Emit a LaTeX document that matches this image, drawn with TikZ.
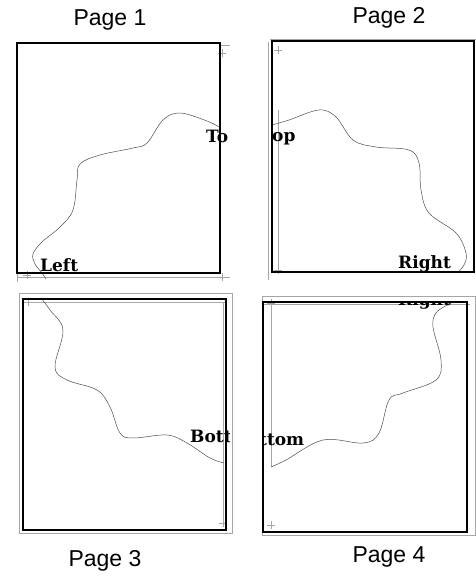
\documentclass[tikz,border=0pt]{standalone}
\usepackage{fontspec}
\setmainfont{Liberation Sans}
\newfontfamily\edgefont{DejaVu Serif}
\usepackage{tikz}

\begin{document}
\begin{tikzpicture}[x=1pt,y=-1pt,
    pageframe/.style={line width=2pt},
    guide/.style={gray!70,line width=0.6pt},
    blob/.style={gray!60!black,line width=0.5pt},
    pagelbl/.style={font=\fontsize{23}{25}\selectfont},
    edgelbl/.style={font=\edgefont\bfseries\fontsize{17}{18}\selectfont,inner sep=0pt,anchor=base west}]
\useasboundingbox (0,0) rectangle (476,576);

% page titles
\node[pagelbl] (t1) at (110,20) {Page 1};
\node[pagelbl] (t2) at (389,18) {Page 2};
\node[pagelbl] (t3) at (105,561) {Page 3};
\node[pagelbl] (t4) at (389,557) {Page 4};

% guide lines and outer sheets
\draw[guide] (220,45)--(230,45);
\draw[guide] (17,273)--(17,282) (17,277)--(230,277);
\draw[guide] (268,42)--(268,280) (270,39)--(476,39);
\draw[guide] (278,110)--(278,272);
\draw[guide] (19,293) rectangle (232,533);
\draw[guide] (28,302)--(226,302) (223,302)--(223,525);
\draw[guide] (262,296) rectangle (475,535);
\draw[guide] (271,303)--(271,467) (263,304)--(470,304);

% crop marks
\foreach \x/\y in {222/53,27/275,222/277,278/50,278/270,28/302,223/523,271/303,271/525}
  \draw[guide] ({\x-4},\y)--({\x+4},\y) (\x,{\y-4})--(\x,{\y+4});

% page 1
\begin{scope}
\clip (10,38) rectangle (227,279);
\draw[blob] plot[smooth,tension=0.6] coordinates {(221,128) (207,121) (180,113) (163,120) (147,143) (133,148) (100,155) (80,164) (77,180) (73,210) (60,227) (42,242) (33,254) (35,264) (42,273) (46,279)};
\node[edgelbl] (top1) at (206,142) {To};
\node[edgelbl] (left1) at (40,271) {Left};
\end{scope}
\draw[pageframe] (17,43) rectangle (220,273);

% page 2
\begin{scope}
\clip (272,38) rectangle (476,279);
\draw[blob] plot[smooth,tension=0.6] coordinates {(272,125) (289,120) (319,110) (336,117) (353,140) (376,147) (409,150) (419,163) (421,190) (429,213) (456,233) (466,253) (464,265) (457,273)};
\node[edgelbl] (top2) at (272,141) {op};
\node[edgelbl] (right2) at (398,268) {Right};
\end{scope}
\draw[pageframe] (272,41) rectangle (474,272);

% page 3
\begin{scope}
\clip (19,293) rectangle (229,533);
\draw[blob] plot[smooth,tension=0.6] coordinates {(41,298) (50,310) (63,330) (55,367) (67,380) (97,390) (110,407) (120,433) (133,438) (167,435) (187,443) (210,458) (224,463)};
\node[edgelbl] (bot3) at (190,442) {Bott};
\end{scope}
\draw[pageframe] (23,299) rectangle (226,530);

% page 4
\begin{scope}
\clip (263,302) rectangle (475,535);
\draw[blob] plot[smooth,tension=0.6] coordinates {(271,467) (286,460) (323,440) (363,443) (379,433) (389,400) (403,393) (436,380) (441,360) (433,327) (436,313) (447,305) (455,299)};
\node[edgelbl] (bot4) at (259,445) {ttom};
\node[edgelbl] (right4) at (398,305) {Right};
\end{scope}
\draw[pageframe] (263,302) rectangle (467,532);
\end{tikzpicture}
\end{document}
